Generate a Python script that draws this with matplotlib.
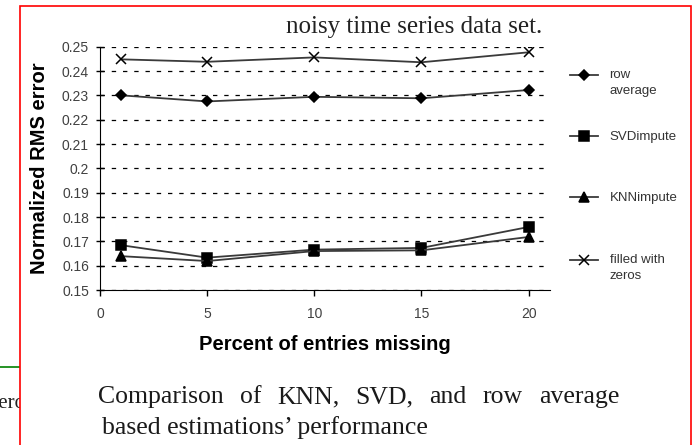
import numpy as np
import matplotlib.pyplot as plt
from matplotlib.lines import Line2D
from matplotlib.patches import Rectangle
from matplotlib.legend import Legend
from matplotlib.legend_handler import HandlerLine2D
from matplotlib.ticker import FuncFormatter

# data
pct_missing = [1, 5, 10, 15, 20]
row_average = [0.2300, 0.2275, 0.2294, 0.2288, 0.2322]
svd_impute = [0.1684, 0.1633, 0.1666, 0.1673, 0.1759]
knn_impute = [0.1639, 0.1619, 0.1660, 0.1663, 0.1718]
filled_zeros = [0.2448, 0.2438, 0.2456, 0.2436, 0.2477]

series = [row_average, svd_impute, knn_impute, filled_zeros]
series_labels = ['row\naverage', 'SVDimpute', 'KNNimpute', 'filled with\nzeros']
markers = ['D', 's', '^', 'x']
marker_sizes = [5.5, 7.5, 7, 7]

x_ticks = [0, 5, 10, 15, 20]
y_ticks = [0.15, 0.16, 0.17, 0.18, 0.19, 0.2, 0.21, 0.22, 0.23, 0.24, 0.25]

title = 'noisy time series data set.'
caption_1 = 'Comparison of KNN, SVD, and row average'
caption_2 = 'based estimations\u2019 performance'

W, H = 698, 445
fig = plt.figure(figsize=(W / 100, H / 100), dpi=100)
plt.rcParams['font.family'] = ['Liberation Sans', 'DejaVu Sans']

# page frame (red box) and bits of neighbouring page content
fig.add_artist(Rectangle((20 / W, -0.2), 671 / W, 1.2 - 6 / H, transform=fig.transFigure,
                         facecolor='white', edgecolor='red', lw=1.2, zorder=-1))
fig.add_artist(Line2D([0, 20 / W], [1 - 367 / H] * 2, transform=fig.transFigure,
                      color='green', lw=1.2, zorder=-2))
fig.text(25.5 / W, 1 - 408 / H, 'zero', ha='right', va='baseline', fontsize=15,
         family='Liberation Serif', color='#222222', zorder=-2)

ax = fig.add_axes([100 / W, 1 - 290 / H, 450 / W, 243.3 / H])
ax.set_facecolor('none')

lines = []
for vals, m, ms in zip(series, markers, marker_sizes):
    ln, = ax.plot(pct_missing, vals, color='#3a3a3a', lw=1.3, marker=m, markersize=ms,
                  markerfacecolor='black', markeredgecolor='black', markeredgewidth=1.1)
    lines.append(ln)

ax.set_xlim(0, 21)
ax.set_ylim(0.15, 0.25)
ax.set_xticks(x_ticks)
ax.set_yticks(y_ticks)
ax.yaxis.set_major_formatter(FuncFormatter(lambda v, p: f'{v:g}'))
ax.tick_params(axis='y', direction='inout', length=6, width=1, pad=5,
               labelsize=10, labelcolor='#404040')
ax.tick_params(axis='x', direction='out', length=4, width=1, pad=8,
               labelsize=10, labelcolor='#404040')
ax.spines['top'].set_visible(False)
ax.spines['right'].set_visible(False)
ax.grid(axis='y', color='black', linestyle=(0, (3.5, 5.5)), linewidth=0.9)
ax.set_axisbelow(True)

ax.set_ylabel('Normalized RMS error', fontsize=14.5, fontweight='bold')
ax.yaxis.set_label_coords(-0.113, 0.5)
ax.set_xlabel('Percent of entries missing', fontsize=14.5, fontweight='bold')
ax.xaxis.set_label_coords(0.5, -0.183)


# legend handle sits on the first line of a two-line label
class FirstLineHandler(HandlerLine2D):
    def __init__(self, shift, **kw):
        super().__init__(**kw)
        self.shift = shift

    def create_artists(self, legend, orig_handle, xdescent, ydescent, width, height, fontsize, trans):
        arts = super().create_artists(legend, orig_handle, xdescent, ydescent,
                                      width, height, fontsize, trans)
        for a in arts:
            a.set_ydata(np.asarray(a.get_ydata()) + self.shift)
        return arts


leg_fs = 9.5
legend_y_px = [74, 136, 197, 259]
for ln, lab, hy in zip(lines, series_labels, legend_y_px):
    n_extra = lab.count('\n')
    leg = Legend(ax, [ln], [lab], loc='upper left',
                 bbox_to_anchor=((570 - 100) / 450, (290 - (hy - 5)) / 243.3),
                 bbox_transform=ax.transAxes, frameon=False, fontsize=leg_fs,
                 handlelength=2.1, handletextpad=0.9, borderpad=0, borderaxespad=0,
                 labelcolor='#333333',
                 handler_map={ln: FirstLineHandler(shift=n_extra * 0.6 * leg_fs)})
    leg.get_texts()[0].set_linespacing(1.4)
    ax.add_artist(leg)

fig.text(286 / W, 1 - 33 / H, title, ha='left', va='baseline', fontsize=18,
         family='Liberation Serif', color='#222222')

# justified first caption line
renderer = fig.canvas.get_renderer()
x0, x1 = 98, 619
words = [fig.text(0, 1 - 403 / H, w, ha='left', va='baseline', fontsize=18.5,
                  family='Liberation Serif', color='#1a1a1a') for w in caption_1.split()]
widths = [t.get_window_extent(renderer).width for t in words]
gap = (x1 - x0 - sum(widths)) / (len(words) - 1)
x = x0
for t, w in zip(words, widths):
    t.set_x(x / W)
    x += w + gap
fig.text(102 / W, 1 - 434 / H, caption_2, ha='left', va='baseline', fontsize=18.5,
         family='Liberation Serif', color='#1a1a1a')

fig.savefig('out.png', dpi=100)
